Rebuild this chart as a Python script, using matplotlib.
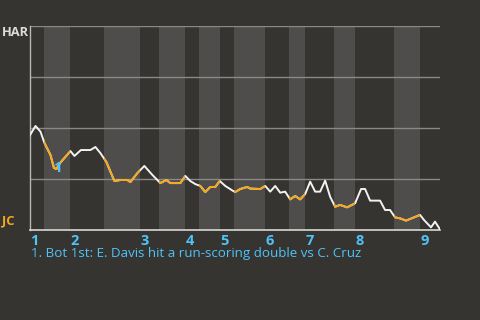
import matplotlib
matplotlib.use("Agg")
import matplotlib.pyplot as plt
from matplotlib.patches import Rectangle

# --- win probability data (HAR = 1, JC = 0), x in plays ---
plays = [0, 1.2, 2.2, 3.0, 4.2, 4.9, 5.4, 6.1, 8.2, 9.0, 10.3, 12.2, 13.2, 14.2,
         15.4, 17.0, 18.2, 19.6, 20.2, 21.6, 23.0, 24.6, 26.2, 27.4, 28.2, 30.2,
         31.2, 32.2, 33.2, 34.2, 35.2, 36.2, 37.2, 38.1, 39.2, 40.8, 41.2, 42.2,
         43.6, 44.2, 46.2, 47.2, 48.2, 49.2, 50.2, 51.2, 52.2, 53.2, 54.2, 55.2,
         56.2, 57.2, 58.2, 59.2, 60.2, 61.2, 62.2, 63.6, 65.2, 66.4, 67.2, 68.2,
         70.2, 71.2, 72.2, 73.2, 74.2, 75.4, 78.2, 79.0, 80.4, 81.2, 82.2]
har_prob = [0.461, 0.510, 0.482, 0.426, 0.368, 0.304, 0.299, 0.328, 0.387, 0.363,
            0.392, 0.392, 0.407, 0.377, 0.333, 0.240, 0.245, 0.245, 0.235, 0.279,
            0.314, 0.270, 0.230, 0.245, 0.230, 0.230, 0.265, 0.240, 0.225, 0.216,
            0.186, 0.211, 0.211, 0.240, 0.216, 0.191, 0.186, 0.201, 0.211, 0.203,
            0.201, 0.216, 0.188, 0.216, 0.183, 0.188, 0.150, 0.167, 0.150, 0.176,
            0.237, 0.188, 0.188, 0.242, 0.163, 0.114, 0.123, 0.111, 0.131, 0.201,
            0.201, 0.144, 0.144, 0.098, 0.098, 0.062, 0.057, 0.046, 0.074, 0.049,
            0.013, 0.041, 0.003]

# half-inning boundaries (top, bottom, top, bottom ...)
half_starts = [0, 3.0, 8.2, 15.0, 22.2, 26.0, 31.2, 34.0, 38.2, 41.0, 47.2,
               52.0, 55.2, 61.0, 65.2, 73.0, 78.2]
game_end = 82.2
innings = [1, 2, 3, 4, 5, 6, 7, 8, 9]

# annotated events
event_x = [5.7]
event_y = [0.306]
event_text = ["1. Bot 1st: E. Davis hit a run-scoring double vs C. Cruz"]

BG = "#363430"
BAND = "#4e4d4b"
ORANGE = "#f5a81c"
BLUE = "#4fc3f7"
FONT = "Open Sans"

fig = plt.figure(figsize=(4.8, 3.2), dpi=100)
fig.patch.set_facecolor(BG)
ax = fig.add_axes([29.5 / 480, 90 / 320, 410.5 / 480, 204 / 320])
ax.set_facecolor(BG)
ax.set_xlim(0, game_end)
ax.set_ylim(0, 1)

edges = half_starts + [game_end]
bottom_halves = []
for i in range(len(half_starts)):
    if i % 2 == 1:
        ax.axvspan(edges[i], edges[i + 1], color=BAND, lw=0, zorder=0)
        bottom_halves.append((edges[i], edges[i + 1]))

for g in [0.25, 0.5, 0.75, 1.0]:
    ax.axhline(g, color="#8a8986", lw=1, zorder=1)

for s in ["top", "right"]:
    ax.spines[s].set_visible(False)
ax.spines["left"].set_color("#b8b7b4")
ax.spines["bottom"].set_color("#d8d8d6")
ax.spines["left"].set_linewidth(1)
ax.spines["bottom"].set_linewidth(1.2)
ax.set_xticks([])
ax.set_yticks([])

# white line, then orange over bottom halves
ax.plot(plays, har_prob, color="#f2f2f2", lw=1.4, zorder=3)
for a, b in bottom_halves:
    ln, = ax.plot(plays, har_prob, color=ORANGE, lw=1.4, zorder=4)
    clip = Rectangle((a, -0.1), b - a, 1.2, transform=ax.transData)
    ln.set_clip_path(clip)

for i, (ex, ey) in enumerate(zip(event_x, event_y)):
    ax.text(ex, ey, str(i + 1), color=BLUE, fontsize=11, fontweight="bold",
            ha="center", va="center", zorder=6, family=FONT)

# inning labels at the start of each inning
for k, inn in enumerate(innings):
    ax.text(half_starts[2 * k] + 0.05, -0.02, str(inn), color=BLUE, fontsize=10.5,
            fontweight="bold", ha="left", va="top", family=FONT)

fig.text(2 / 480, 1 - 33 / 320, "HAR", color="#dcdcdc", fontsize=9.3,
         fontweight="bold", ha="left", va="center", family=FONT)
fig.text(2 / 480, 1 - 221 / 320, "JC", color=ORANGE, fontsize=9.3,
         fontweight="bold", ha="left", va="center", family=FONT)

fig.text(31 / 480, 1 - 254 / 320, event_text[0], color=BLUE, fontsize=9.6,
         ha="left", va="center", family=FONT)

fig.savefig("out.png", dpi=100, facecolor=BG)
